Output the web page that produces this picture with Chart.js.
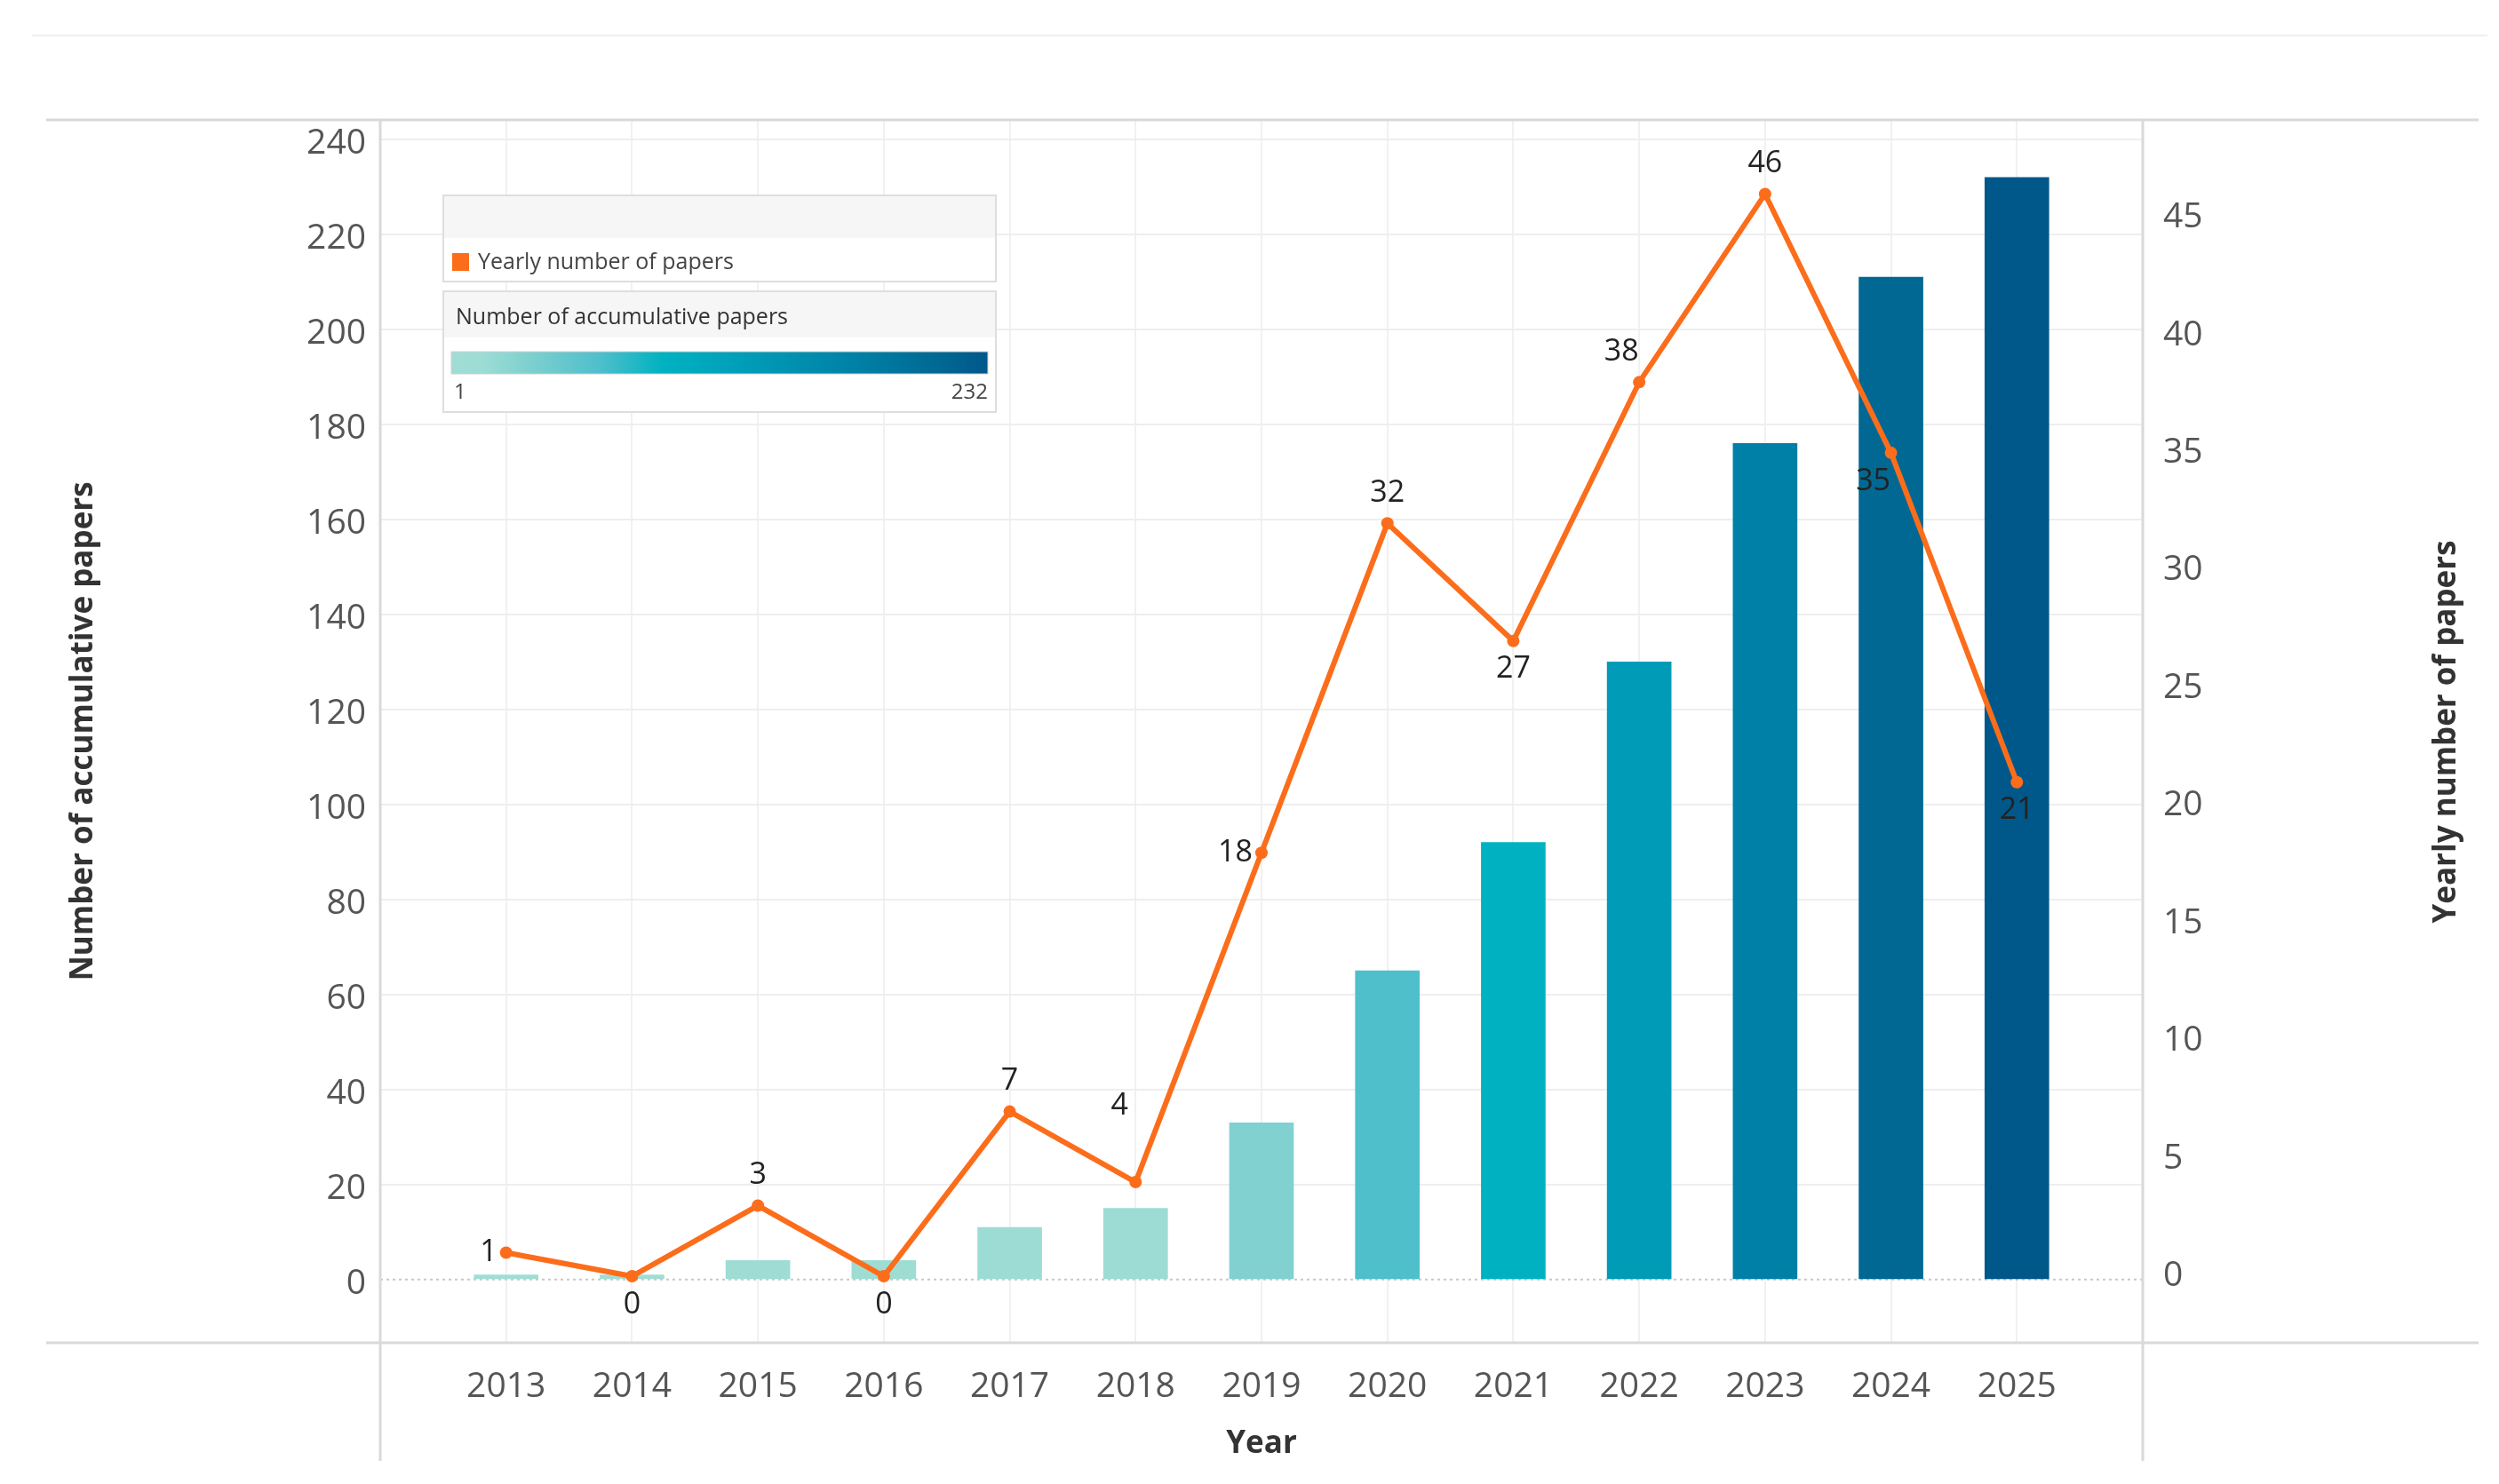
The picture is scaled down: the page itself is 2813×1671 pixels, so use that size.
<!DOCTYPE html>
<html>
<head>
<meta charset="utf-8">
<script src="https://cdn.jsdelivr.net/npm/chart.js@4.4.1/dist/chart.umd.min.js"></script>
<style>
  html, body { margin: 0; padding: 0; background: #fff; }
  #wrap { width: 2813px; height: 1671px; }
</style>
</head>
<body>
<div id="wrap"><canvas id="paperChart"></canvas></div>
<script>
// data
var years = [2013, 2014, 2015, 2016, 2017, 2018, 2019, 2020, 2021, 2022, 2023, 2024, 2025];
var accumulative = [1, 1, 4, 4, 11, 15, 33, 65, 92, 130, 176, 211, 232];
var yearly = [1, 0, 3, 0, 7, 4, 18, 32, 27, 38, 46, 35, 21];
var leftTicks = [0, 20, 40, 60, 80, 100, 120, 140, 160, 180, 200, 220, 240];
var rightTicks = [0, 5, 10, 15, 20, 25, 30, 35, 40, 45];
// where each yearly label sits relative to its point
var labelPlacement = ['left', 'below', 'above', 'below', 'above', 'high', 'left', 'above', 'below', 'aboveLeft', 'above', 'belowLeft', 'below'];

var ORANGE = '#fc6d1b';
var FONT = '"Open Sans", "Noto Sans", sans-serif';
var RIGHT_TITLE = 'Yearly number of papers';

// blue-teal colour ramp
var rampStops = [
    [0, '#a0ddd4'], [0.06, '#9cdcd5'], [0.138, '#80d1d0'], [0.277, '#4ebfcb'],
    [0.394, '#00b2c1'], [0.558, '#009bb7'], [0.758, '#0080a6'], [0.909, '#006893'], [1, '#00588a']
];

function hexToRgb(h) {
    return [parseInt(h.substr(1, 2), 16), parseInt(h.substr(3, 2), 16), parseInt(h.substr(5, 2), 16)];
}

function rampColor(t) {
    for (var i = 1; i < rampStops.length; i++) {
        if (t <= rampStops[i][0]) {
            var a = rampStops[i - 1], b = rampStops[i];
            var f = (t - a[0]) / (b[0] - a[0]);
            var ca = hexToRgb(a[1]), cb = hexToRgb(b[1]);
            var c = ca.map(function (v, k) { return Math.round(v + (cb[k] - v) * f); });
            return 'rgb(' + c.join(',') + ')';
        }
    }
    return rampStops[rampStops.length - 1][1];
}

var minAcc = Math.min.apply(null, accumulative);
var maxAcc = Math.max.apply(null, accumulative);
var barColors = accumulative.map(function (v) { return rampColor((v - minAcc) / (maxAcc - minAcc)); });

var decorPlugin = {
    id: 'decor',
    beforeDatasetsDraw: function (chart) {
        var ctx = chart.ctx, a = chart.chartArea;
        var y0 = chart.scales.y.getPixelForValue(0);
        ctx.save();
        // dotted zero line
        ctx.strokeStyle = '#c8c8c8';
        ctx.lineWidth = 2;
        ctx.setLineDash([3, 4]);
        ctx.beginPath();
        ctx.moveTo(a.left, y0);
        ctx.lineTo(a.right, y0);
        ctx.stroke();
        ctx.setLineDash([]);
        // pane borders
        ctx.strokeStyle = '#d9d9d9';
        ctx.lineWidth = 3;
        ctx.beginPath();
        ctx.moveTo(52, a.top); ctx.lineTo(2790, a.top);
        ctx.moveTo(52, a.bottom); ctx.lineTo(2790, a.bottom);
        ctx.moveTo(a.left, a.top); ctx.lineTo(a.left, 1645);
        ctx.moveTo(a.right, a.top); ctx.lineTo(a.right, 1645);
        ctx.stroke();
        ctx.strokeStyle = '#efefef';
        ctx.lineWidth = 2;
        ctx.beginPath();
        ctx.moveTo(36, 40); ctx.lineTo(2800, 40);
        ctx.stroke();
        ctx.restore();
    },
    afterDatasetsDraw: function (chart) {
        var ctx = chart.ctx;
        var meta = chart.getDatasetMeta(1);
        ctx.save();
        ctx.font = '34px ' + FONT;
        ctx.fillStyle = '#222';
        ctx.textBaseline = 'middle';
        meta.data.forEach(function (pt, i) {
            var p = labelPlacement[i];
            var txt = String(yearly[i]);
            var x = pt.x, y = pt.y;
            ctx.textAlign = 'center';
            if (p === 'above') { y -= 34; }
            else if (p === 'below') { y += 32; }
            else if (p === 'left') { ctx.textAlign = 'right'; x -= 10; }
            else if (p === 'aboveLeft') { x -= 20; y -= 34; }
            else if (p === 'belowLeft') { x -= 20; y += 32; }
            else if (p === 'high') { x -= 18; y -= 86; }
            ctx.fillText(txt, x, y);
        });
        ctx.restore();
    },
    afterDraw: function (chart) {
        var ctx = chart.ctx;
        ctx.save();
        // right axis title, reading bottom to top
        ctx.save();
        ctx.translate(2754, 824);
        ctx.rotate(-Math.PI / 2);
        ctx.font = 'bold 35px ' + FONT;
        ctx.fillStyle = '#333';
        ctx.textAlign = 'center';
        ctx.textBaseline = 'middle';
        ctx.fillText(RIGHT_TITLE, 0, 0);
        ctx.restore();
        // legend 1: yearly
        ctx.fillStyle = '#ffffff';
        ctx.fillRect(499, 220, 622, 97);
        ctx.fillStyle = '#f6f6f6';
        ctx.fillRect(499, 220, 622, 48);
        ctx.strokeStyle = '#dedede';
        ctx.lineWidth = 2;
        ctx.strokeRect(499, 220, 622, 97);
        ctx.fillStyle = ORANGE;
        ctx.fillRect(509, 285, 19, 20);
        ctx.font = '25px ' + FONT;
        ctx.fillStyle = '#444';
        ctx.textBaseline = 'middle';
        ctx.textAlign = 'left';
        ctx.fillText(chart.data.datasets[1].label, 538, 296);
        // legend 2: accumulative ramp
        ctx.fillStyle = '#ffffff';
        ctx.fillRect(499, 328, 622, 136);
        ctx.fillStyle = '#f6f6f6';
        ctx.fillRect(499, 328, 622, 52);
        ctx.strokeStyle = '#dedede';
        ctx.strokeRect(499, 328, 622, 136);
        ctx.fillStyle = '#333';
        ctx.fillText(chart.data.datasets[0].label, 513, 358);
        var g = ctx.createLinearGradient(508, 0, 1112, 0);
        rampStops.forEach(function (s) { g.addColorStop(s[0], s[1]); });
        ctx.fillStyle = g;
        ctx.fillRect(508, 396, 604, 25);
        ctx.strokeStyle = '#cfcfcf';
        ctx.lineWidth = 1;
        ctx.strokeRect(508, 396, 604, 25);
        ctx.font = '24px ' + FONT;
        ctx.fillStyle = '#444';
        ctx.fillText(String(minAcc), 511, 442);
        ctx.textAlign = 'right';
        ctx.fillText(String(maxAcc), 1112, 442);
        ctx.restore();
    }
};

var ctx = document.getElementById('paperChart').getContext('2d');
new Chart(ctx, {
    type: 'bar',
    data: {
        datasets: [
            {
                type: 'bar',
                label: 'Number of accumulative papers',
                data: years.map(function (yr, i) { return { x: yr, y: accumulative[i] }; }),
                backgroundColor: barColors,
                barThickness: 72,
                yAxisID: 'y',
                order: 2
            },
            {
                type: 'line',
                label: 'Yearly number of papers',
                data: years.map(function (yr, i) { return { x: yr, y: yearly[i] }; }),
                borderColor: ORANGE,
                backgroundColor: ORANGE,
                borderWidth: 6,
                pointRadius: 7,
                pointBackgroundColor: ORANGE,
                pointBorderWidth: 0,
                tension: 0,
                yAxisID: 'y1',
                order: 1
            }
        ]
    },
    options: {
        responsive: true,
        maintainAspectRatio: false,
        animation: false,
        layout: { padding: { top: 135, left: 0, right: 0, bottom: 0 } },
        plugins: {
            legend: { display: false },
            tooltip: { enabled: false }
        },
        scales: {
            x: {
                type: 'linear',
                min: 2012,
                max: 2026,
                offset: false,
                afterBuildTicks: function (scale) { scale.ticks = years.map(function (v) { return { value: v }; }); },
                afterFit: function (scale) { scale.height = 159; },
                grid: { color: '#f1f1f1', lineWidth: 2, drawTicks: false, offset: false },
                border: { display: false },
                ticks: {
                    padding: 26,
                    color: '#555',
                    font: { family: FONT, size: 39 },
                    callback: function (v) { return String(v); }
                },
                title: {
                    display: true,
                    text: 'Year',
                    color: '#333',
                    font: { family: FONT, size: 35, weight: 'bold' },
                    padding: { top: 0, bottom: 24 }
                }
            },
            y: {
                position: 'left',
                min: -13.3,
                max: 244.1,
                afterBuildTicks: function (scale) { scale.ticks = leftTicks.map(function (v) { return { value: v }; }); },
                afterFit: function (scale) { scale.width = 428; },
                grid: {
                    drawTicks: false,
                    lineWidth: 2,
                    color: function (c) { return c.tick && c.tick.value === 0 ? 'rgba(0,0,0,0)' : '#eeeeee'; }
                },
                border: { display: false },
                ticks: { padding: 16, labelOffset: 5, color: '#555', font: { family: FONT, size: 39 } },
                title: {
                    display: true,
                    text: 'Number of accumulative papers',
                    color: '#333',
                    font: { family: FONT, size: 35, weight: 'bold' },
                    padding: { top: 73, bottom: 0 }
                }
            },
            y1: {
                position: 'right',
                min: -2.83,
                max: 49.15,
                afterBuildTicks: function (scale) { scale.ticks = rightTicks.map(function (v) { return { value: v }; }); },
                afterFit: function (scale) { scale.width = 401; },
                grid: { display: false, drawOnChartArea: false },
                border: { display: false },
                ticks: { padding: 15, color: '#555', font: { family: FONT, size: 39 } },
                title: { display: false }
            }
        }
    },
    plugins: [decorPlugin]
});
</script>
</body>
</html>
